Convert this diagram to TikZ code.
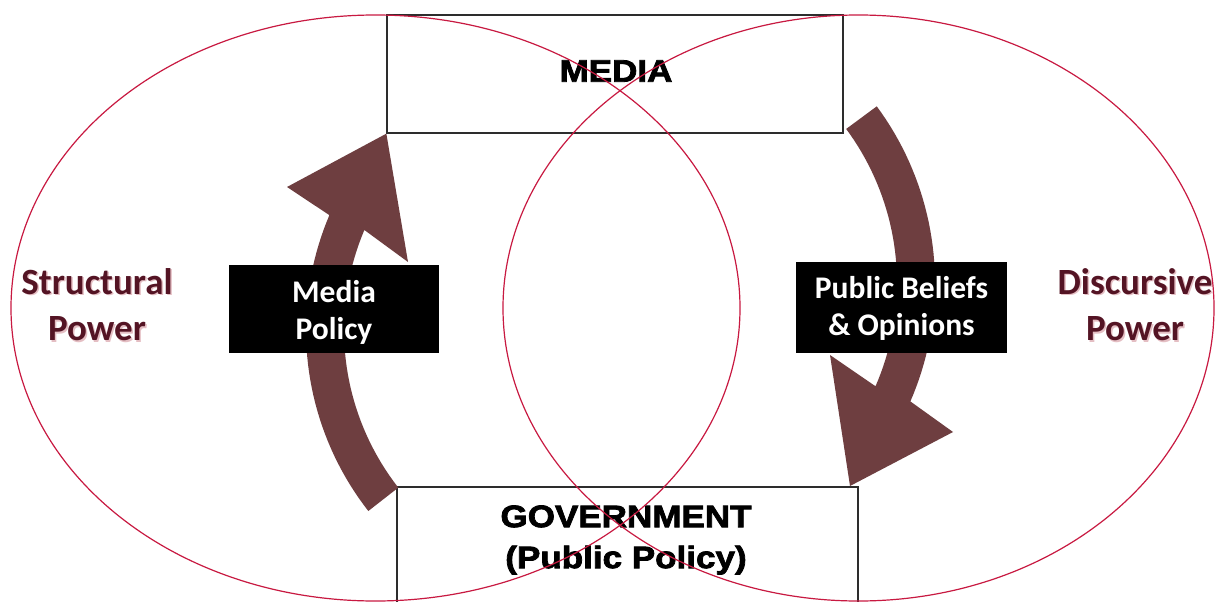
\documentclass[tikz,border=0pt]{standalone}
\usepackage{fontspec}
\newfontfamily\labelfont{Carlito}
\newfontfamily\headfont[FakeStretch=1.13, BoldFeatures={FakeBold=2.5}]{Liberation Sans}
\definecolor{ringred}{RGB}{200,25,65}
\definecolor{arrowbrown}{RGB}{110,62,64}
\definecolor{powertext}{RGB}{84,20,36}
\definecolor{powershadow}{RGB}{180,70,85}
\definecolor{frameline}{RGB}{45,45,45}

\tikzset{
  ring/.style={draw=ringred, line width=1.2pt},
  flowarrow/.style={fill=arrowbrown},
  frame/.style={draw=frameline, line width=1.3pt, inner sep=0pt},
  headtext/.style={font=\headfont\bfseries\fontsize{31pt}{41pt}\selectfont, align=center, inner sep=0pt},
  blackbox/.style={fill=black, inner sep=0pt},
  boxtext/.style={text=white, font=\labelfont\bfseries\fontsize{31.5pt}{37pt}\selectfont, align=center, inner sep=0pt},
  powerlabel/.style={text=powertext, font=\labelfont\bfseries\fontsize{37pt}{46.5pt}\selectfont, align=center, inner sep=0pt},
  powerglow/.style={text=powershadow, opacity=0.35, font=\labelfont\bfseries\fontsize{37pt}{46.5pt}\selectfont, align=center, inner sep=0pt}
}

\begin{document}
\begin{tikzpicture}[x=1pt, y=-1pt]
  \useasboundingbox (0,0) rectangle (1215,602);
  \fill[white] (0,0) rectangle (1215,602);
  \clip (0,0) rectangle (1215,602);

  % outlined boxes
  \node[frame, minimum width=456pt, minimum height=118pt] (media) at (615,74) {};
  \node[frame, minimum width=461pt, minimum height=140pt] (gov) at (627.5,557) {};
  \coordinate (govtip) at (850,486);

  % curved arrow: government -> media (left side)
  \fill[flowarrow]
    plot[domain=142:203, samples=40] ({600+294*cos(\x)},{330+294*sin(\x)})
    -- (287,187) -- (media.south west) -- (408,262)
    -- plot[domain=203:142, samples=40] ({600+256*cos(\x)},{330+256*sin(\x)})
    -- cycle;

  % curved arrow: media -> government (right side)
  \fill[flowarrow]
    plot[domain=-36.5:23.5, samples=40] ({638+297*cos(\x)},{283+297*sin(\x)})
    -- (953,432) -- (govtip) -- (830,355)
    -- plot[domain=23.5:-36.5, samples=40] ({638+259*cos(\x)},{283+259*sin(\x)})
    -- cycle;

  % black label boxes on the arrows
  \node[blackbox, minimum width=210pt, minimum height=88pt] (mpbox) at (334,309) {};
  \node[boxtext] (mptext) at (334,312.5) {Media\\Policy};
  \node[blackbox, minimum width=211pt, minimum height=91pt] (pbbox) at (901.5,307.5) {};
  \node[boxtext] (pbtext) at (901.5,308) {Public Beliefs\\\& Opinions};

  % power labels with a soft shadow
  \node[powerglow] (spglow) at (98.5,306) {Structural\\Power};
  \node[powerlabel] (sp) at (97,304.5) {Structural\\Power};
  \node[powerglow] (dpglow) at (1136.5,306) {Discursive\\Power};
  \node[powerlabel] (dp) at (1135,304.5) {Discursive\\Power};

  % box titles
  \node[headtext] (mediatext) at (616,71) {MEDIA};
  \node[headtext] (govtext) at (626,540) {GOVERNMENT\\(Public Policy)};

  % the two power spheres
  \draw[ring] (375.5,308) ellipse [x radius=364.5pt, y radius=293pt];
  \draw[ring] (858.5,308) ellipse [x radius=355.5pt, y radius=293pt];
\end{tikzpicture}
\end{document}
